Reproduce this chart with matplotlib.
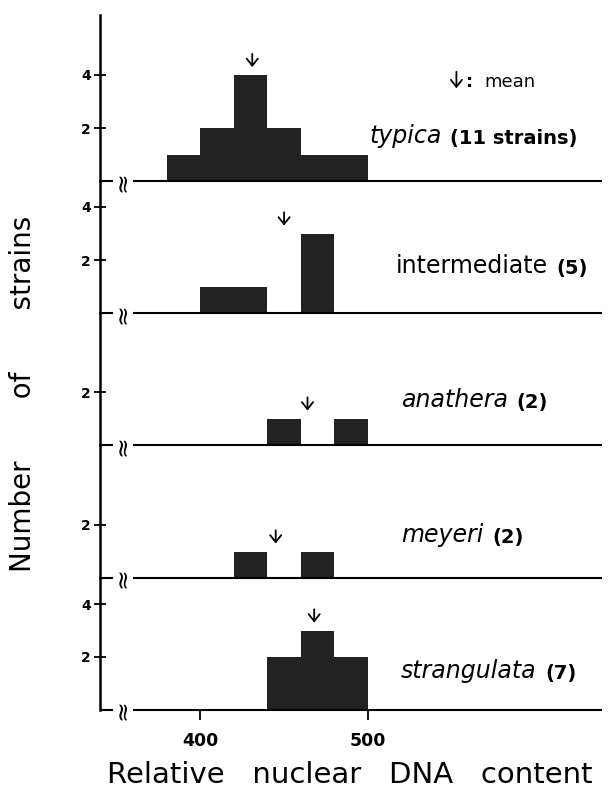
import matplotlib
matplotlib.use("Agg")
import matplotlib.pyplot as plt

# histogram bins (left edges, width 20) and counts per variety
bin_edges = [380, 400, 420, 440, 460, 480]
bin_width = 20
names = ["typica", "intermediate", "anathera", "meyeri", "strangulata"]
counts_label = ["(11 strains)", "(5)", "(2)", "(2)", "(7)"]
italic = [True, False, True, True, True]
counts = [
    [1, 2, 4, 2, 1, 1],
    [0, 1, 1, 0, 3, 0],
    [0, 0, 0, 1, 0, 1],
    [0, 0, 1, 0, 1, 0],
    [0, 0, 0, 2, 3, 2],
]
means = [431, 450, 464, 445, 468]
yticks = [[2, 4], [2, 4], [2], [2], [2, 4]]
xticks = [400, 500]

# layout (pixels of the 611x789 figure)
W, H = 611, 789
unit = 26.5
baselines = [181, 313, 445, 578, 710]
tops = [15] + baselines[:-1]
label_x = [501, 517, 520, 520, 520]
label_y = [1.43, 1.5, 1.43, 1.36, 1.2]
bar_color = "#222222"

fig = plt.figure(figsize=(W / 100, H / 100), dpi=100)
left, right = 100, 602

for i in range(5):
    h = baselines[i] - tops[i]
    ax = fig.add_axes([left / W, (H - baselines[i]) / H, (right - left) / W, h / H])
    ax.set_xlim(340, 640)
    ax.set_ylim(0, h / unit)
    ax.patch.set_alpha(0)
    for s in ["top", "right", "bottom"]:
        ax.spines[s].set_visible(False)
    ax.spines["left"].set_linewidth(1.8)

    xs = [e for e, c in zip(bin_edges, counts[i]) if c > 0]
    cs = [c for c in counts[i] if c > 0]
    ax.bar(xs, cs, width=bin_width, align="edge", color=bar_color, linewidth=0)

    # baseline with axis break
    ax.plot([340, 347.5], [0, 0], color="black", lw=1.5, clip_on=False, solid_capstyle="butt")
    ax.plot([359.5, 640], [0, 0], color="black", lw=1.5, clip_on=False, solid_capstyle="butt")
    ax.text(353.5, 0, "\u2248", rotation=90, ha="center", va="center", fontsize=18)

    ax.set_yticks(yticks[i])
    ax.set_yticklabels([str(t) for t in yticks[i]], fontweight="bold")
    ax.tick_params(axis="y", direction="inout", length=9, width=1.3, labelsize=10, pad=2)

    if i == 4:
        ax.set_xticks(xticks)
        ax.set_xticklabels([str(t) for t in xticks], fontweight="bold")
        ax.tick_params(axis="x", direction="out", length=7, width=1.3, labelsize=12.5, pad=9)
    else:
        ax.set_xticks([])

    # mean arrow
    top = max(counts[i])
    ax.annotate("", xy=(means[i], top + 0.3), xytext=(means[i], top + 0.8),
                arrowprops=dict(arrowstyle="->,head_length=0.5,head_width=0.4", lw=1.3,
                                color="black", shrinkA=0, shrinkB=0))

    t = ax.text(label_x[i], label_y[i], names[i], fontsize=17,
                style="italic" if italic[i] else "normal", va="baseline", ha="left")
    ax.annotate(counts_label[i], xy=(1, 0), xycoords=t, xytext=(6, 0),
                textcoords="offset points", va="bottom", ha="left",
                fontsize=14, fontweight="bold")

    if i == 0:
        ax.annotate("", xy=(553, 3.5), xytext=(553, 4.12),
                    arrowprops=dict(arrowstyle="->,head_length=0.5,head_width=0.4", lw=1.3,
                                    color="black", shrinkA=0, shrinkB=0))
        ax.text(559, 3.55, ":", fontsize=13, fontweight="bold", va="baseline", ha="left")
        ax.text(570, 3.55, "mean", fontsize=13, va="baseline", ha="left")

fig.text(350 / W, 1 - 775 / H, "Relative   nuclear   DNA   content",
         ha="center", va="center", fontsize=21)
fig.text(23 / W, 1 - 394 / H, "Number       of       strains", rotation=90,
         ha="center", va="center", fontsize=20)

fig.savefig("out.png", dpi=100)
